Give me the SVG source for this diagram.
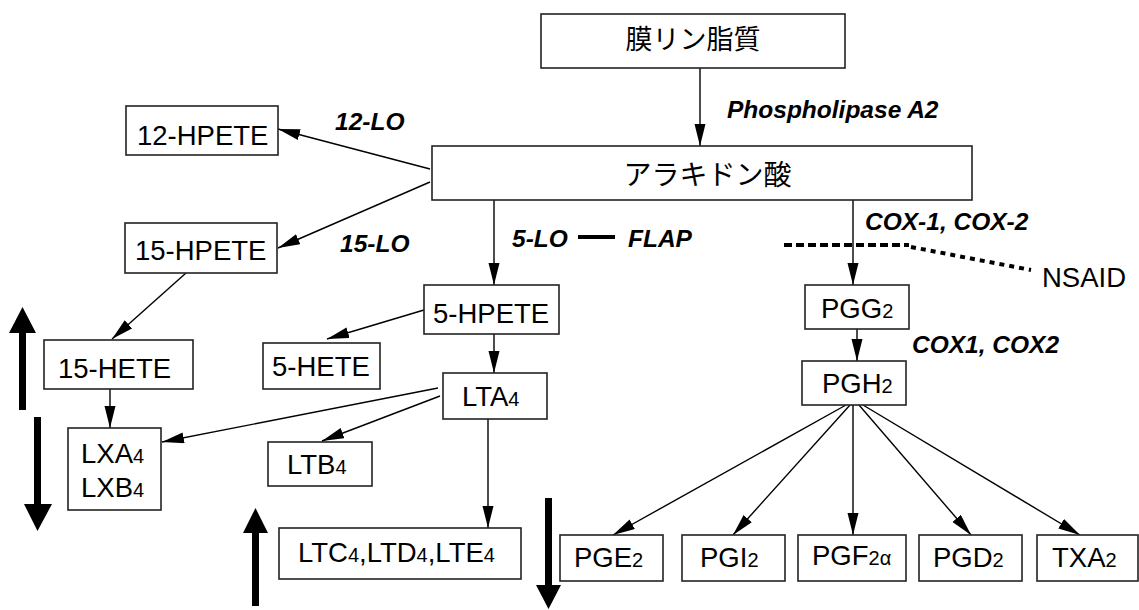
<svg xmlns="http://www.w3.org/2000/svg" width="1139" height="610" viewBox="0 0 1139 610">
<defs>
<style>
.box{fill:#fff;stroke:#222;stroke-width:1.6}
.t{font-family:"Liberation Sans",Arial,sans-serif;font-size:27.5px;fill:#000}
.s{font-size:20px}
.jp{font-family:"Noto Sans CJK JP",sans-serif;fill:#000;text-anchor:middle}
.enz{font-family:"Liberation Sans",Arial,sans-serif;font-size:24.5px;font-weight:bold;font-style:italic;fill:#000}
.c{fill:none;stroke:#000;stroke-width:1.4;marker-end:url(#ah)}
.big{fill:#000}
</style>
<marker id="ah" markerUnits="userSpaceOnUse" markerWidth="24" markerHeight="12" refX="22" refY="5.5" orient="auto">
<path d="M0,0 L22,5.5 L0,11 Z" fill="#000"/>
</marker>
</defs>
<rect width="1139" height="610" fill="#fff"/>

<g id="connectors">
<line class="c" x1="700" y1="68" x2="700" y2="146"/>
<line class="c" x1="430" y1="169" x2="278" y2="129"/>
<line class="c" x1="430" y1="182" x2="278" y2="248"/>
<line class="c" x1="494" y1="200" x2="494" y2="285"/>
<line class="c" x1="853" y1="200" x2="853" y2="285"/>
<line class="c" x1="186" y1="273" x2="112" y2="339"/>
<line class="c" x1="424" y1="310" x2="327" y2="339"/>
<line class="c" x1="494" y1="334" x2="494" y2="373"/>
<line class="c" x1="857" y1="329" x2="857" y2="361"/>
<line class="c" x1="110" y1="389" x2="110" y2="428"/>
<line class="c" x1="438" y1="388" x2="162" y2="442"/>
<line class="c" x1="440" y1="396" x2="322" y2="441"/>
<line class="c" x1="488" y1="419" x2="488" y2="528"/>
<line class="c" x1="846" y1="405" x2="613" y2="535"/>
<line class="c" x1="850" y1="405" x2="733" y2="535"/>
<line class="c" x1="853" y1="405" x2="853" y2="535"/>
<line class="c" x1="859" y1="405" x2="971" y2="535"/>
<line class="c" x1="863" y1="405" x2="1080" y2="535"/>
</g>

<g id="inhibition">
<path d="M784,245 L909,245" fill="none" stroke="#000" stroke-width="4" stroke-dasharray="8 4"/>
<path d="M911,247 L1031,270" fill="none" stroke="#000" stroke-width="4" stroke-dasharray="5 5"/>
<line x1="578" y1="237" x2="615" y2="237" stroke="#000" stroke-width="4"/>
</g>

<g id="n-membrane">
<rect class="box" x="541" y="14" width="304" height="54"/>
<text class="jp" x="693" y="48.5" font-size="27">膜リン脂質</text>
</g>
<g id="n-aa">
<rect class="box" x="432" y="146" width="540" height="54"/>
<text class="jp" x="707.5" y="185" font-size="28">アラキドン酸</text>
</g>
<g id="n-12hpete">
<rect class="box" x="126" y="106" width="152" height="49"/>
<text class="t" x="137" y="145">12-HPETE</text>
</g>
<g id="n-15hpete">
<rect class="box" x="125" y="223" width="152" height="50"/>
<text class="t" x="135" y="260">15-HPETE</text>
</g>
<g id="n-15hete">
<rect class="box" x="44" y="340" width="149" height="49"/>
<text class="t" x="58" y="378">15-HETE</text>
</g>
<g id="n-lx">
<rect class="box" x="68" y="428" width="93" height="82"/>
<text class="t" x="81" y="463">LXA<tspan class="s">4</tspan></text>
<text class="t" x="81" y="497">LXB<tspan class="s">4</tspan></text>
</g>
<g id="n-5hpete">
<rect class="box" x="424" y="285" width="135" height="49"/>
<text class="t" x="433" y="323">5-HPETE</text>
</g>
<g id="n-5hete">
<rect class="box" x="263" y="343" width="117" height="46"/>
<text class="t" x="272" y="376">5-HETE</text>
</g>
<g id="n-lta4">
<rect class="box" x="443" y="373" width="104" height="46"/>
<text class="t" x="462" y="406">LTA<tspan class="s">4</tspan></text>
</g>
<g id="n-ltb4">
<rect class="box" x="268" y="442" width="104" height="44"/>
<text class="t" x="287" y="474">LTB<tspan class="s">4</tspan></text>
</g>
<g id="n-ltc4">
<rect class="box" x="279" y="528" width="242" height="51"/>
<text class="t" x="298" y="562">LTC<tspan class="s">4</tspan>,LTD<tspan class="s">4</tspan>,LTE<tspan class="s">4</tspan></text>
</g>
<g id="n-pgg2">
<rect class="box" x="805" y="285" width="104" height="44"/>
<text class="t" x="821" y="318">PGG<tspan class="s">2</tspan></text>
</g>
<g id="n-pgh2">
<rect class="box" x="802" y="361" width="104" height="44"/>
<text class="t" x="822" y="393">PGH<tspan class="s">2</tspan></text>
</g>
<g id="n-pge2">
<rect class="box" x="560" y="535" width="103" height="46"/>
<text class="t" x="574" y="567">PGE<tspan class="s">2</tspan></text>
</g>
<g id="n-pgi2">
<rect class="box" x="682" y="535" width="103" height="46"/>
<text class="t" x="700" y="567">PGI<tspan class="s">2</tspan></text>
</g>
<g id="n-pgf2a">
<rect class="box" x="798" y="535" width="108" height="46"/>
<text class="t" x="812" y="565">PGF<tspan class="s">2α</tspan></text>
</g>
<g id="n-pgd2">
<rect class="box" x="919" y="535" width="103" height="46"/>
<text class="t" x="933" y="567">PGD<tspan class="s">2</tspan></text>
</g>
<g id="n-txa2">
<rect class="box" x="1037" y="535" width="101" height="46"/>
<text class="t" x="1052" y="567">TXA<tspan class="s">2</tspan></text>
</g>

<g id="labels">
<text class="enz" x="727" y="118">Phospholipase A2</text>
<text class="enz" x="335" y="130">12-LO</text>
<text class="enz" x="340" y="252">15-LO</text>
<text class="enz" x="512" y="247">5-LO</text>
<text class="enz" x="628" y="247">FLAP</text>
<text class="enz" x="865" y="230">COX-1, COX-2</text>
<text class="enz" x="912" y="353">COX1, COX2</text>
<text class="t" x="1042" y="287">NSAID</text>
</g>

<g id="big-arrows">
<polygon class="big" points="19,410 26,410 26,333 36,333 22.5,307 9,333 19,333"/>
<polygon class="big" points="34,417 41,417 41,504 52,504 37.5,531 24,504 34,504"/>
<polygon class="big" points="252,606 259,606 259,533 268,533 255.5,508 243,533 252,533"/>
<polygon class="big" points="545,498 552,498 552,585 561,585 548.5,609 536,585 545,585"/>
</g>
</svg>
